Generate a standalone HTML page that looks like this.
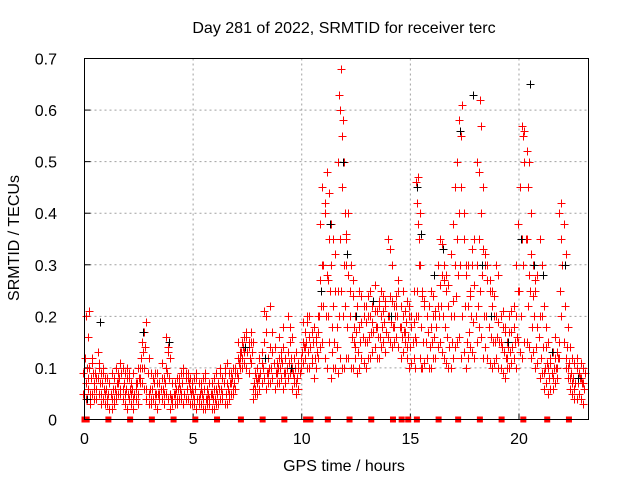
<!DOCTYPE html>
<html><head><meta charset="utf-8"><style>
body{margin:0;background:#fff;}
svg{display:block;font-family:"Liberation Sans",sans-serif;}
</style></head><body>
<svg id="chart" width="640" height="480" viewBox="0 0 640 480">
<text x="344" y="33" font-size="16" text-anchor="middle">Day 281 of 2022, SRMTID for receiver terc</text>
<text x="344" y="471" font-size="16" text-anchor="middle">GPS time / hours</text>
<text x="19" y="238" font-size="16" text-anchor="middle" transform="rotate(-90 19 238)">SRMTID / TECUs</text>
<g id="grid"></g>
<g id="ticks"></g>
<g id="red"></g>
<g id="black"></g>
<g id="marks"></g>
<rect x="84.5" y="58.5" width="504" height="361" fill="none" stroke="#000" stroke-width="1"/>
</svg>
<script>
const xTicks=[0,5,10,15,20];
const yTicks=[0,0.1,0.2,0.3,0.4,0.5,0.6,0.7];
const yTickLabels=["0","0.1","0.2","0.3","0.4","0.5","0.6","0.7"];
const redTimes=[0.0,0.2,0.4,0.6,0.8,1.0,1.2,1.4,1.6,1.8,2.0,2.2,2.4,2.6,2.8,3.0,3.2,3.4,3.6,3.8,4.0,4.2,4.4,4.6,4.8,5.0,5.2,5.4,5.6,5.8,6.0,6.2,6.4,6.6,6.8,7.0,7.2,7.4,7.6,7.8,8.0,8.2,8.4,8.6,8.8,9.0,9.2,9.4,9.6,9.8,10.0,10.2,10.4,10.6,10.8,11.0,11.2,11.4,11.6,11.8,12.0,12.2,12.4,12.6,12.8,13.0,13.2,13.4,13.6,13.8,14.0,14.2,14.4,14.6,14.8,15.0,15.2,15.4,15.6,15.8,16.0,16.2,16.4,16.6,16.8,17.0,17.2,17.4,17.6,17.8,18.0,18.2,18.4,18.6,18.8,19.0,19.2,19.4,19.6,19.8,20.0,20.2,20.4,20.6,20.8,21.0,21.2,21.4,21.6,21.8,22.0,22.2,22.4,22.6,22.8,23.0];
const redValues=[
[.05,.12,.2,.09],[.06,.1,.04,.08,.21],[.05,.09,.07,.12],[.04,.08,.1,.06,.13],[.05,.07,.09,.03],
[.03,.06,.08,.05],[.02,.05,.09,.07],[.04,.06,.1,.03],[.05,.08,.11,.07],[.04,.07,.09,.06],
[.02,.05,.08,.1],[.03,.06,.09,.05],[.04,.07,.1,.06],[.08,.12,.15,.1],[.1,.14,.19,.06],
[.03,.06,.09,.05],[.04,.07,.05,.08],[.02,.05,.07,.09],[.04,.06,.08,.11],[.05,.09,.13,.16],
[.02,.04,.07,.05],[.03,.06,.08,.05],[.04,.06,.09,.07],[.03,.05,.08,.1],[.04,.07,.06,.09],
[.03,.05,.08,.06],[.02,.04,.07,.09],[.03,.05,.08,.06],[.02,.04,.06,.09],[.03,.05,.07,.04],
[.02,.04,.06,.08],[.03,.06,.09,.07],[.04,.07,.1,.05],[.03,.06,.09,.11],[.05,.08,.1,.07],
[.06,.09,.12,.1],[.1,.13,.15,.12],[.11,.14,.17,.13],[.09,.12,.15,.14],[.04,.07,.09,.06],
[.05,.08,.12,.07],[.07,.1,.15,.13],[.06,.09,.12,.2],[.07,.1,.13,.22],[.06,.09,.11,.14],
[.07,.1,.13,.16],[.06,.09,.12,.18],[.08,.11,.15,.2],[.06,.09,.12,.1],[.05,.08,.11,.07],
[.1,.13,.15,.12],[.12,.15,.19,.14],[.1,.14,.17,.2],[.08,.12,.15,.18],[.12,.2,.27,.17],
[.15,.3,.4,.45,.22],[.1,.2,.35,.48,.27],[.08,.13,.22,.3,.18],[.1,.18,.25,.32,.14],[.12,.25,.45,.6,.68,.55],
[.1,.22,.35,.5,.4,.3],[.12,.2,.3,.4,.25],[.1,.15,.2,.27,.18],[.09,.13,.18,.22],[.12,.16,.2,.24],
[.1,.15,.2,.22],[.12,.17,.22,.25],[.14,.18,.21,.26],[.12,.16,.2,.23],[.15,.19,.22,.24],
[.16,.2,.24,.35],[.14,.18,.22,.3],[.16,.2,.25,.22],[.12,.16,.2,.18],[.15,.19,.23,.17],
[.1,.14,.18,.22],[.12,.16,.2,.25,.1],[.2,.3,.4,.47,.35],[.1,.15,.22,.24],[.12,.17,.22,.2],
[.1,.15,.2,.25],[.12,.18,.22,.2],[.15,.22,.28,.35],[.12,.18,.25,.3],[.1,.14,.2,.26],
[.12,.2,.3,.38],[.15,.28,.4,.5],[.12,.2,.35,.55,.61],[.1,.15,.22,.28],[.14,.2,.3,.25],
[.12,.2,.3,.35],[.18,.25,.4,.48,.62],[.12,.2,.3,.33],[.12,.18,.25,.3],[.1,.15,.2,.25],
[.12,.16,.19,.3],[.1,.14,.18,.15],[.08,.12,.15,.18],[.1,.13,.17,.2],[.12,.15,.2,.22],
[.15,.25,.45,.38],[.12,.3,.5,.57,.55],[.15,.22,.28,.35,.45],[.12,.18,.24,.32],[.1,.14,.18,.25],
[.08,.12,.2,.35],[.06,.1,.14,.09],[.05,.08,.12,.1],[.06,.1,.12,.08],[.08,.12,.15,.1],
[.2,.3,.38,.42],[.1,.14,.18,.12],[.06,.09,.12,.08],[.04,.07,.1,.06],[.05,.08,.11,.09],[.03,.06,.09,.07]];
const redTimesB=[0.1,0.3,0.5,0.7,0.9,1.1,1.3,1.5,1.7,1.9,2.1,2.3,2.5,2.7,2.9,3.1,3.3,3.5,3.7,3.9,4.1,4.3,4.5,4.7,4.9,5.1,5.3,5.5,5.7,5.9,6.1,6.3,6.5,6.7,6.9,7.1,7.3,7.5,7.7,7.9,8.1,8.3,8.5,8.7,8.9,9.1,9.3,9.5,9.7,9.9,10.1,10.3,10.5,10.7,10.9,11.1,11.3,11.5,11.7,11.9,12.1,12.3,12.5,12.7,12.9,13.1,13.3,13.5,13.7,13.9,14.1,14.3,14.5,14.7,14.9,15.1,15.3,15.5,15.7,15.9,16.1,16.3,16.5,16.7,16.9,17.1,17.3,17.5,17.7,17.9,18.1,18.3,18.5,18.7,18.9,19.1,19.3,19.5,19.7,19.9,20.1,20.3,20.5,20.7,20.9,21.1,21.3,21.5,21.7,21.9,22.1,22.3,22.5,22.7,22.9];
const redValuesB=[
[.07,.1,.16,.04],[.05,.08,.11,.03],[.06,.09,.08,.04],[.05,.07,.09,.11],[.04,.06,.08,.1],
[.03,.05,.07,.04],[.04,.06,.08,.02],[.05,.07,.09,.04],[.06,.09,.1,.05],[.03,.06,.08,.05],
[.04,.06,.07,.09],[.02,.05,.07,.04],[.05,.08,.07,.03],[.1,.13,.17,.07],[.06,.09,.12,.04],
[.04,.06,.08,.03],[.03,.05,.07,.09],[.04,.06,.08,.05],[.05,.07,.1,.03],[.04,.08,.12,.14],
[.03,.05,.07,.04],[.04,.06,.08,.03],[.05,.07,.09,.04],[.04,.06,.08,.09],[.03,.05,.07,.08],
[.04,.06,.08,.03],[.03,.05,.07,.04],[.04,.06,.08,.02],[.03,.05,.07,.04],[.02,.04,.06,.05],
[.03,.05,.07,.09],[.04,.06,.08,.1],[.03,.05,.07,.09],[.04,.07,.09,.05],[.05,.07,.09,.06],
[.08,.11,.13,.15],[.12,.14,.16,.1],[.1,.13,.15,.16],[.11,.13,.15,.17],[.06,.08,.1,.05],
[.06,.09,.11,.08],[.08,.12,.17,.21],[.07,.1,.14,.09],[.08,.11,.14,.17],[.07,.1,.12,.09],
[.08,.11,.14,.12],[.07,.1,.13,.09],[.09,.12,.16,.18],[.07,.1,.13,.08],[.06,.09,.12,.1],
[.11,.14,.17,.19],[.1,.13,.16,.2],[.12,.15,.18,.11],[.1,.13,.2,.16],[.14,.22,.3,.38],
[.12,.2,.28,.42],[.15,.25,.38,.44],[.1,.15,.25,.35],[.09,.2,.35,.5,.63],[.1,.2,.3,.45,.58],
[.12,.18,.28,.36],[.1,.16,.24,.3],[.12,.17,.22,.14],[.1,.15,.19,.25],[.11,.15,.19,.22],
[.12,.16,.2,.24],[.13,.17,.21,.19],[.12,.16,.22,.18],[.14,.18,.21,.25],[.13,.17,.2,.23],
[.15,.19,.23,.33],[.15,.2,.24,.18],[.14,.18,.22,.27],[.13,.17,.21,.25],[.12,.16,.2,.14],
[.11,.15,.19,.2],[.15,.25,.38,.46,.42],[.12,.18,.25,.3,.1],[.11,.15,.2,.23],[.1,.14,.18,.22],
[.12,.16,.21,.24],[.14,.2,.26,.3],[.13,.2,.27,.34],[.11,.16,.22,.28],[.1,.15,.23,.32],
[.14,.24,.35,.45],[.16,.3,.45,.58],[.13,.22,.3,.4],[.12,.17,.24,.3],[.13,.19,.26,.33],
[.15,.22,.35,.5],[.16,.28,.45,.57],[.14,.2,.27,.32],[.11,.16,.22,.27],[.11,.15,.2,.24],
[.1,.15,.2,.28],[.09,.13,.17,.21],[.1,.14,.17,.12],[.11,.14,.18,.21],[.1,.16,.25,.3],
[.13,.2,.35,.45],[.15,.35,.52,.56],[.14,.25,.4,.5],[.13,.2,.27,.3],[.11,.16,.2,.28],
[.09,.14,.22,.3],[.07,.11,.15,.18],[.06,.09,.13,.11],[.07,.1,.13,.16],[.12,.25,.35,.4],
[.15,.22,.32,.38],[.08,.11,.14,.1],[.05,.08,.11,.07],[.04,.07,.09,.12],[.04,.07,.1,.08]];
const blackTimes=[0.1,0.7,2.7,3.9,7.4,8.3,9.5,10.9,11.3,11.9,12.1,12.5,13.3,14.1,15.3,15.5,16.1,16.5,17.3,17.9,18.3,18.7,19.5,20.1,20.5,20.7,21.1,21.5,22.1,22.7];
const blackValues=[0.04,0.19,0.17,0.15,0.14,0.12,0.1,0.25,0.38,0.5,0.32,0.2,0.23,0.2,0.45,0.36,0.28,0.33,0.56,0.63,0.3,0.2,0.15,0.35,0.65,0.3,0.28,0.13,0.3,0.08];
const markerTimes=[0.0,0.1,1.1,2.1,3.1,4.1,5.1,6.1,7.2,8.2,9.2,10.2,10.4,11.2,12.2,13.2,14.2,14.6,14.9,15.3,16.3,17.2,18.2,19.2,20.2,21.3,22.3];

const L=84.5,R=588.5,T=58.5,B=419.5,XMAX=23.2,YMAX=0.7;
const xs=t=>L+(R-L)*t/XMAX;
const ys=v=>B-(B-T)*v/YMAX;
const NS="http://www.w3.org/2000/svg";
function mk(tag,attrs,parent){const e=document.createElementNS(NS,tag);for(const k in attrs)e.setAttribute(k,attrs[k]);parent.appendChild(e);return e;}
const grid=document.getElementById('grid'),ticks=document.getElementById('ticks');
xTicks.forEach((t,i)=>{
  const x=xs(t);
  if(t>0){const g=mk('line',{x1:x,x2:x,y1:T,y2:B,stroke:'#a0a0a0','stroke-dasharray':'2,3'},grid);
  
  }
  const tk=mk('line',{x1:x,x2:x,y1:B,y2:B-6,stroke:'#000'},ticks);
  
  
  const lb=mk('text',{x:x,y:444,'font-size':16,'text-anchor':'middle'},ticks);lb.textContent=String(t);
  
  
});
yTicks.forEach((v,i)=>{
  const y=ys(v);
  if(v>0){const g=mk('line',{x1:L,x2:R,y1:y,y2:y,stroke:'#a0a0a0','stroke-dasharray':'2,3'},grid);
  
  }
  const tk=mk('line',{x1:L,x2:L+6,y1:y,y2:y,stroke:'#000'},ticks);
  
  
  const lb=mk('text',{x:57,y:y+6,'font-size':16,'text-anchor':'end'},ticks);lb.textContent=yTickLabels[i];
  
  
});
function plus(g,t,v,c,name){
  const x=Math.round(xs(t))+0.5,y=Math.round(ys(v))+0.5;
  const p=mk('path',{d:`M${x-4},${y}H${x+4}M${x},${y-4}V${y+4}`,stroke:c,'stroke-width':1,fill:'none'},g);
  
  
}
const red=document.getElementById('red');
redTimes.forEach((t,i)=>{
  redValues[i].forEach((v,j)=>{const tt=t+(j%3-1)*0.05;plus(red,tt,v,'#ff0000','red-point');});
});
redTimesB.forEach((t,i)=>{
  redValuesB[i].forEach((v,j)=>{const tt=t+(j%3-1)*0.05;plus(red,tt,v,'#ff0000','red-point');});
});
const blk=document.getElementById('black');
blackTimes.forEach((t,i)=>plus(blk,t,blackValues[i],'#000','black-point'));
const marks=document.getElementById('marks');
markerTimes.forEach(t=>{
  const r=mk('rect',{x:xs(t)-3,y:B-3,width:6,height:6,fill:'#ff0000'},marks);
  
  
});
</script>
</body></html>
